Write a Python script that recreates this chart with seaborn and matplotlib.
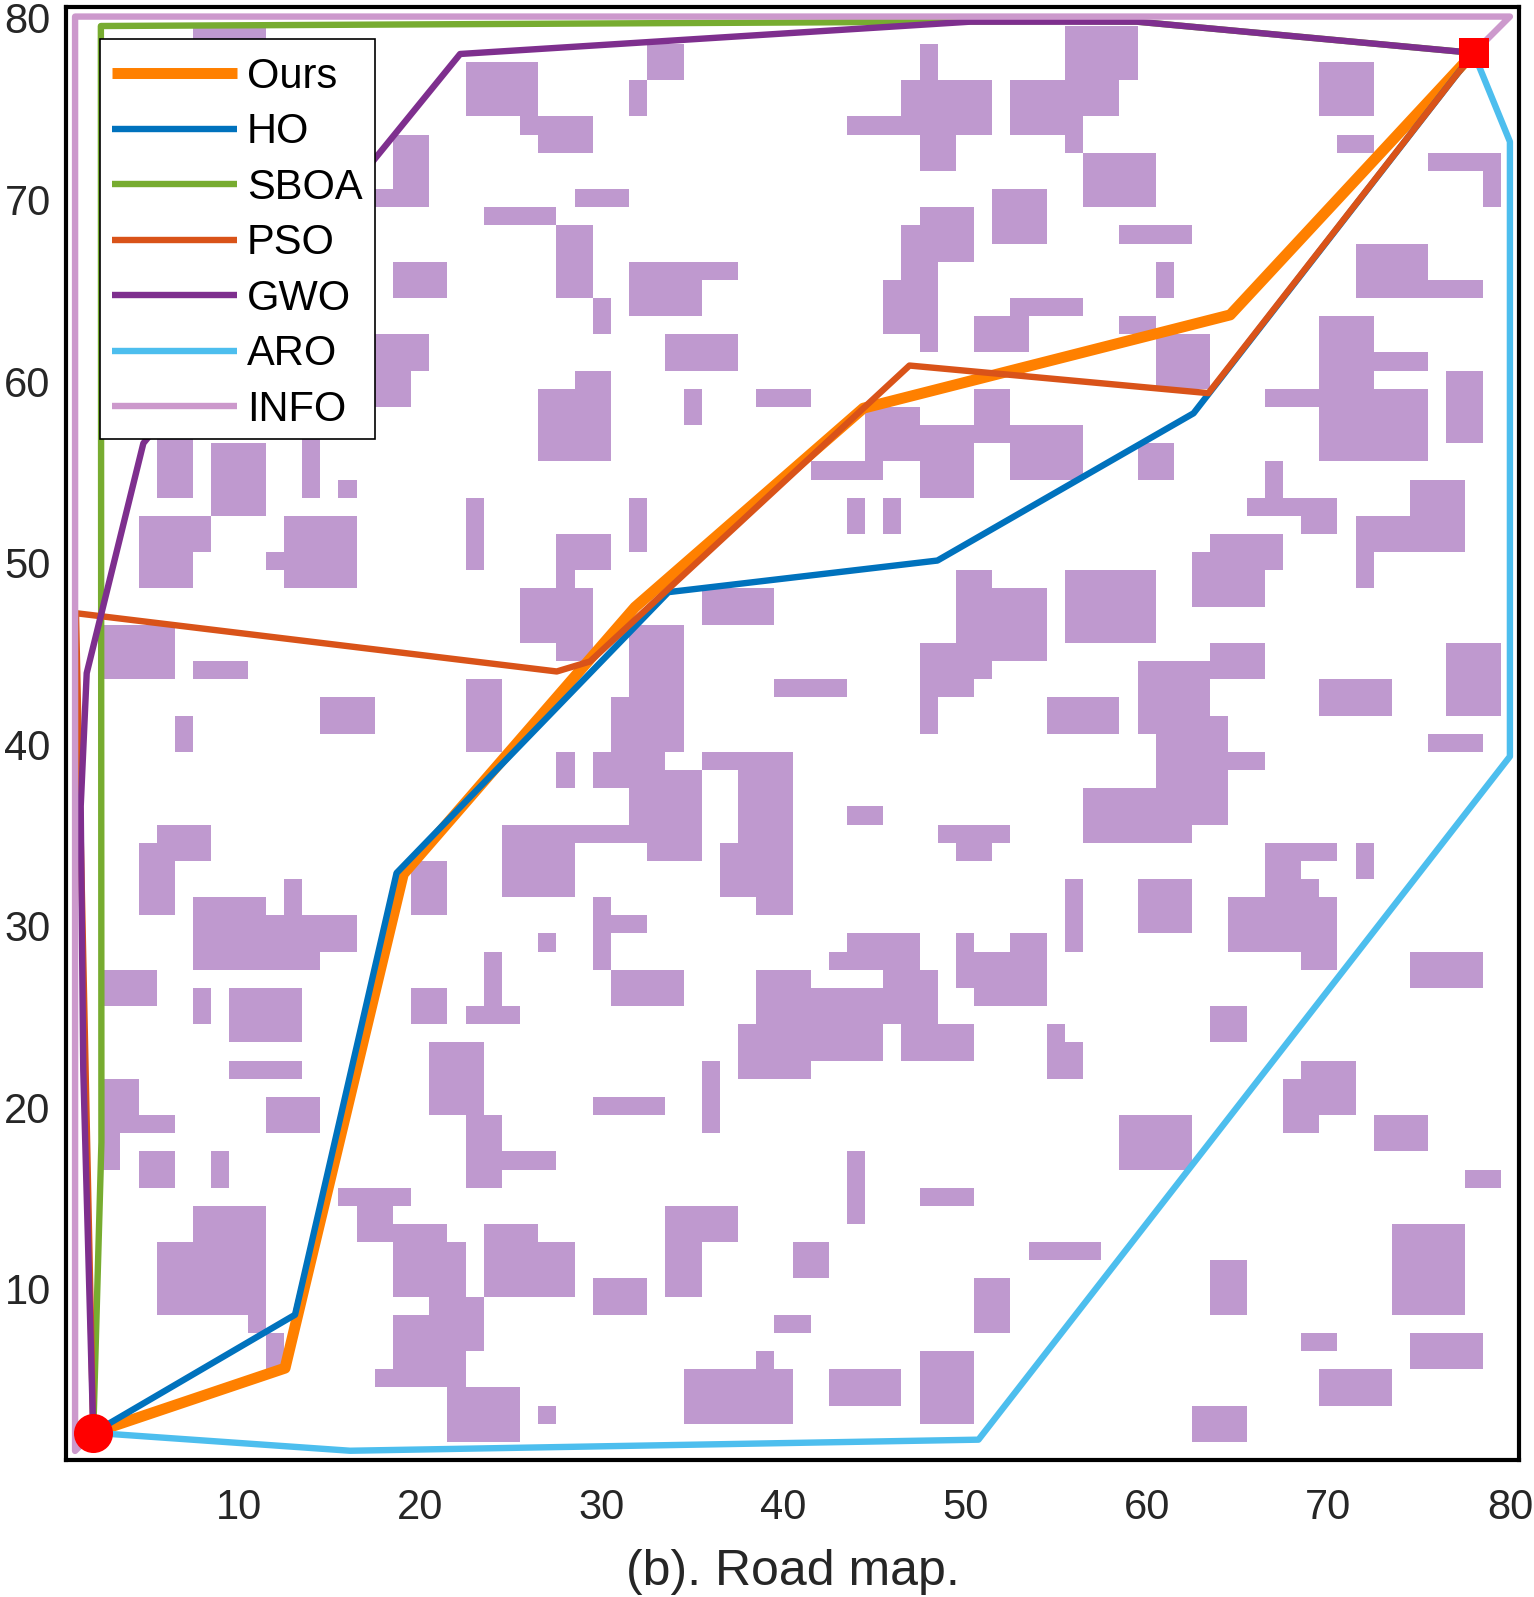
import numpy as np
import pandas as pd
import seaborn as sns
import matplotlib.pyplot as plt
from matplotlib.colors import ListedColormap
from matplotlib.patches import Rectangle
from matplotlib.transforms import ScaledTranslation

# obstacle blocks on the 80x80 map: col start, col end, row start, row end (row 0 is the top)
blocks = [
    (7,11,1,2),(22,26,3,6),(25,29,6,7),(26,29,7,8),(18,20,7,11),(17,20,10,11),(23,27,11,12),(27,29,12,16),
    (18,21,14,16),(17,20,18,20),(17,19,20,22),(26,30,21,25),(28,30,20,21),(32,34,2,4),(31,32,4,6),
    (28,31,10,11),(29,30,16,18),(31,37,14,15),(31,35,15,17),(33,37,18,20),(47,48,2,4),(46,51,4,6),
    (43,51,6,7),(47,49,7,9),(52,58,4,6),(52,56,6,7),(55,56,7,8),(55,59,1,4),(51,54,10,13),(56,60,8,11),
    (58,62,12,13),(60,61,14,16),(52,56,16,17),(50,53,17,19),(58,60,17,18),(60,63,18,21),(69,72,3,6),
    (70,72,7,8),(75,79,8,9),(78,79,9,11),(71,75,13,16),(75,78,15,16),(69,72,17,21),(72,75,19,20),
    (66,75,21,22),(69,75,22,25),(76,78,20,24),(45,48,15,18),(46,48,14,15),(46,50,12,14),(47,50,11,12),
    (47,48,18,19),(50,52,21,23),(44,47,22,25),(47,56,23,24),(47,50,24,27),(52,56,24,26),(41,45,25,26),
    (34,35,21,23),(38,41,21,22),(31,32,27,30),(43,44,27,29),(45,46,27,29),(27,30,29,31),(27,28,31,32),
    (25,29,32,35),(27,29,35,36),(35,39,32,34),(31,34,34,38),(30,34,38,41),(29,33,41,43),(27,28,41,43),
    (31,35,42,45),(24,35,45,46),(32,35,46,47),(24,28,46,49),(35,40,41,42),(37,40,42,46),(36,40,46,49),
    (38,40,49,50),(43,45,44,45),(48,52,45,46),(49,51,46,47),(29,30,49,53),(29,32,50,51),(26,27,51,52),
    (30,34,53,55),(38,41,53,54),(38,48,54,56),(45,48,53,54),(42,47,52,53),(43,47,51,52),(37,45,56,58),
    (46,50,56,58),(37,41,58,59),(49,50,51,52),(52,54,51,52),(49,54,52,54),(50,54,54,55),(55,56,48,52),
    (59,62,48,51),(64,70,49,52),(66,69,48,49),(66,68,47,48),(66,70,46,47),(68,70,52,53),(71,72,46,48),
    (74,78,52,54),(63,65,55,57),(54,55,56,59),(54,56,57,59),(59,63,36,40),(60,64,39,43),(56,64,43,45),
    (56,62,45,46),(64,66,41,42),(63,66,35,37),(54,58,38,40),(55,60,31,35),(49,51,31,32),(49,54,32,35),
    (47,51,35,37),(51,54,35,36),(47,50,37,38),(47,48,38,40),(39,43,37,38),(66,67,25,27),(65,70,27,28),
    (68,70,28,29),(71,77,28,30),(74,77,26,28),(71,72,30,32),(63,67,29,31),(62,66,30,33),(59,61,24,26),
    (69,73,37,39),(76,79,35,39),(75,78,40,41),(5,7,23,27),(8,11,24,28),(13,14,23,27),(15,16,26,27),
    (4,8,28,30),(4,7,30,32),(12,16,28,32),(11,12,30,31),(22,23,27,31),(2,6,34,37),(7,10,36,37),
    (22,24,37,41),(14,17,38,40),(6,7,39,41),(5,8,45,47),(4,6,46,50),(7,11,49,50),(7,16,50,52),(7,14,52,53),
    (12,13,48,50),(2,5,53,55),(7,8,54,56),(9,13,54,57),(9,13,58,59),(2,4,59,61),(2,6,61,62),(2,3,62,64),
    (11,14,60,62),(19,21,47,50),(19,21,54,56),(23,24,52,55),(22,25,55,56),(20,23,57,61),(22,24,61,65),
    (24,27,63,64),(4,6,63,65),(8,9,63,65),(7,11,66,68),(5,11,68,72),(10,11,72,73),(11,12,73,75),
    (15,19,65,66),(16,18,66,68),(18,21,67,68),(18,22,68,71),(20,23,71,72),(18,23,72,74),(18,22,74,75),
    (17,22,75,76),(21,25,76,79),(23,26,67,68),(23,28,68,71),(26,27,77,78),(29,33,60,61),(35,36,58,62),
    (29,32,70,72),(33,37,66,68),(33,35,68,71),(40,42,68,70),(43,44,63,67),(47,50,65,66),(39,41,72,73),
    (38,39,74,75),(34,40,75,78),(42,46,75,77),(47,50,74,78),(50,52,70,73),(53,57,68,69),(58,62,61,64),
    (68,71,58,61),(67,69,59,62),(72,75,61,63),(77,79,64,65),(73,77,67,72),(63,65,69,72),(68,70,73,74),
    (74,78,73,75),(69,73,75,77),(62,65,77,79),
]

names = ['Ours', 'HO', 'SBOA', 'PSO', 'GWO', 'ARO', 'INFO']
colors = ['#FF8000', '#0072BD', '#77AC30', '#D95319', '#7E2F8E', '#4DBEEE', '#CC99CC']
widths = [7.9, 4.6, 4.6, 4.6, 4.6, 4.6, 4.6]

ours_x = [2, 12.56, 19.07, 31.83, 44.4, 64.6, 78]
ours_y = [2, 5.56, 32.77, 47.47, 58.43, 63.57, 78]
ho_x = [2, 13.11, 18.7, 33.67, 48.48, 62.58, 78]
ho_y = [2, 8.5, 32.83, 48.3, 50.04, 58.15, 78]
sboa_x = [2, 2.45, 2.42, 55.4, 59.46, 78]
sboa_y = [2, 18, 79.48, 79.75, 79.72, 78]
pso_x = [2, 1.05, 27.52, 29.35, 46.94, 63.4, 78]
pso_y = [2, 47.14, 43.93, 44.48, 60.78, 59.26, 78]
gwo_x = [2, 1.45, 1.31, 1.64, 4.76, 22.2, 50.3, 59.46, 78]
gwo_y = [2, 22, 36.5, 43.84, 56.5, 77.94, 79.72, 79.72, 78]
aro_x = [2, 16.14, 50.74, 80, 80, 78]
aro_y = [2, 1.01, 1.62, 39.25, 73.11, 78]
info_x = [2, 1, 1, 80, 80, 78]
info_y = [2, 1, 80, 80, 80, 78]
paths_x = [ours_x, ho_x, sboa_x, pso_x, gwo_x, aro_x, info_x]
paths_y = [ours_y, ho_y, sboa_y, pso_y, gwo_y, aro_y, info_y]

ticks = [10, 20, 30, 40, 50, 60, 70, 80]

sns.set_theme(style='white')
plt.rcParams['font.family'] = ['Liberation Sans', 'DejaVu Sans']
plt.rcParams['lines.solid_capstyle'] = 'butt'

fig = plt.figure(figsize=(15.34, 15.97), dpi=100)
ax = fig.add_axes([66 / 1534, 1 - 1460 / 1597, 1453 / 1534, 1452.5 / 1597])

grid = np.zeros((80, 80))
for x1, x2, y1, y2 in blocks:
    grid[y1:y2, x1:x2] = 1
map_df = pd.DataFrame(grid[::-1], index=range(1, 81), columns=range(1, 81))

sns.heatmap(map_df, ax=ax, cmap=ListedColormap(['white', '#BF99CF']), vmin=0, vmax=1,
            cbar=False, xticklabels=False, yticklabels=False)
ax.invert_yaxis()

# heatmap cells sit on half numbers, so map values move by 0.5
for name, color, lw, px, py in zip(names, colors, widths, paths_x, paths_y):
    sns.lineplot(x=np.array(px) - 0.5, y=np.array(py) - 0.5, ax=ax, color=color, linewidth=lw,
                 label=name, estimator=None, sort=False, zorder=3)

sns.scatterplot(x=[1.5], y=[1.5], ax=ax, color='red', marker='o', s=790, linewidth=0, zorder=5, clip_on=False)
sns.scatterplot(x=[77.5], y=[77.5], ax=ax, color='red', marker='s', s=467, linewidth=0, zorder=5, clip_on=False)

ax.set_xlim(0, 80)
ax.set_ylim(0, 80)
ax.set_xticks([t - 0.5 for t in ticks])
ax.set_yticks([t - 0.5 for t in ticks])
ax.set_xticklabels(ticks, rotation=0, fontsize=30, color='#262626')
ax.set_yticklabels(ticks, rotation=0, fontsize=30, color='#262626')
ax.tick_params(axis='x', pad=20.5, length=0)
ax.tick_params(axis='y', pad=11, length=0)
for t in ax.get_yticklabels():
    t.set_transform(t.get_transform() + ScaledTranslation(0, -1 / 72, fig.dpi_scale_trans))
ax.set_xlabel('(b). Road map.', fontsize=36, color='#262626', labelpad=15, visible=True)
ax.set_ylabel('')

for sp in ax.spines.values():
    sp.set_visible(True)
    sp.set_color('black')
    sp.set_linewidth(3)

# legend box drawn apart so the rows can sit where they do in the figure
box_l, box_t, box_r, box_b = 99.5, 39.5, 375, 439.5
ax.add_patch(Rectangle(((box_l - 66) / 1453, 1 - (box_b - 7.5) / 1452.5), (box_r - box_l) / 1453, (box_b - box_t) / 1452.5,
                       transform=ax.transAxes, facecolor='white', edgecolor='black', linewidth=1.2, zorder=6))
leg = ax.legend(loc='upper left', bbox_to_anchor=((111.7 - 66) / 1453, 1 - (56.6 - 7.5) / 1452.5), borderaxespad=0,
                fontsize=30, frameon=False, handlelength=3.0, handletextpad=0.25, labelspacing=0.372, borderpad=0)
leg.set_zorder(7)
for t in leg.get_texts():
    t.set_color('black')

fig.savefig('out.png', dpi=100)
